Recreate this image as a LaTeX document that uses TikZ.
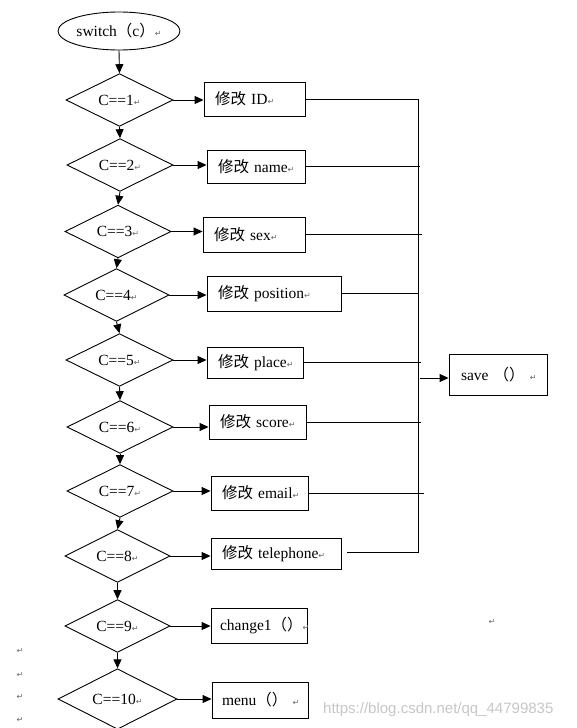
\documentclass[tikz,border=0pt]{standalone}
\usepackage{fontspec}
\setmainfont{Liberation Serif}
\newfontfamily\cjk{Noto Sans CJK SC}
\newfontfamily\dvs{DejaVu Sans}
\newfontfamily\wmfont{Liberation Sans}
\usetikzlibrary{shapes.geometric,arrows.meta}
\newcommand\rmk{{\dvs\fontsize{8}{8}\selectfont\textcolor{black!60}{↵}}}
\begin{document}
\begin{tikzpicture}[x=1pt,y=-1pt,
  every node/.style={font=\fontsize{15.5}{18}\selectfont},
  dia/.style={draw, diamond, inner sep=0pt, line width=0.9pt},
  box/.style={draw, rectangle, line width=0.9pt, inner xsep=11pt, inner ysep=0pt, align=left},
  ln/.style={line width=0.9pt},
  arr/.style={line width=0.9pt, -{Triangle[length=9pt,width=8pt]}},
  pmk/.style={inner sep=0pt}]
\useasboundingbox (0,0) rectangle (576,728);
\fill[white] (0,0) rectangle (576,728);

% start
\node[draw, ellipse, minimum width=122pt, minimum height=38pt, inner sep=0pt, line width=0.9pt] (sw) at (119,31) {switch{\cjk （}c{\cjk ）}\rmk};

% diamonds
\node[dia, minimum width=107pt, minimum height=46pt] (d1) at (119.5,100) {C==1\rmk};
\node[dia, minimum width=106pt, minimum height=46pt] (d2) at (120,165) {C==2\rmk};
\node[dia, minimum width=106pt, minimum height=47pt] (d3) at (118,231.5) {C==3\rmk};
\node[dia, minimum width=105pt, minimum height=46pt] (d4) at (116.5,295) {C==4\rmk};
\node[dia, minimum width=107pt, minimum height=46pt] (d5) at (119.5,360) {C==5\rmk};
\node[dia, minimum width=106pt, minimum height=48pt] (d6) at (120,427) {C==6\rmk};
\node[dia, minimum width=106pt, minimum height=48pt] (d7) at (120,491) {C==7\rmk};
\node[dia, minimum width=105pt, minimum height=48pt] (d8) at (117.5,556) {C==8\rmk};
\node[dia, minimum width=105pt, minimum height=48pt] (d9) at (117.5,626) {C==9\rmk};
\node[dia, minimum width=119pt, minimum height=48pt] (d10) at (117.5,699) {C==10\rmk};

% boxes
\node[box, minimum height=34pt, text width=79pt] (b1) at (254.5,99) {\mbox{{\cjk 修改} ID\rmk}};
\node[box, minimum height=33pt, text width=76pt] (b2) at (256,166.5) {\mbox{{\cjk 修改} name\rmk}};
\node[box, minimum height=35pt, text width=80pt] (b3) at (254,234.5) {\mbox{{\cjk 修改} sex\rmk}};
\node[box, minimum height=35pt, text width=112pt] (b4) at (274,293.5) {\mbox{{\cjk 修改} position\rmk}};
\node[box, minimum height=31pt, text width=74pt] (b5) at (255,362.5) {\mbox{{\cjk 修改} place\rmk}};
\node[box, minimum height=34pt, text width=75pt] (b6) at (257.5,422) {\mbox{{\cjk 修改} score\rmk}};
\node[box, minimum height=34pt, text width=75pt] (b7) at (259.5,493) {\mbox{{\cjk 修改} email\rmk}};
\node[box, minimum height=31pt, text width=108pt] (b8) at (276,553.5) {\mbox{{\cjk 修改} telephone\rmk}};
\node[box, minimum height=35pt, text width=78pt, inner xsep=9pt] (b9) at (259,625.5) {\mbox{change1{\cjk （）}\rmk}};
\node[box, minimum height=36pt, text width=80pt, inner xsep=8pt] (b10) at (260,700) {\mbox{\hspace{2pt}menu{\cjk （）} \rmk}};
\node[box, minimum height=41pt, text width=78pt, inner xsep=10pt] (sv) at (498,374.5) {\mbox{\hspace{2pt}save {\cjk （）} \rmk}};

% vertical flow
\draw[arr] (sw.south) -- (d1.north);
\draw[arr] (d1.south) -- (d2.north);
\draw[arr] (d2.south) -- (d3.north);
\draw[arr] (d3.south) -- (d4.north);
\draw[arr] (d4.south) -- (d5.north);
\draw[arr] (d5.south) -- (d6.north);
\draw[arr] (d6.south) -- (d7.north);
\draw[arr] (d7.south) -- (d8.north);
\draw[arr] (d8.south) -- (d9.north);
\draw[arr] (d9.south) -- (d10.north);

% horizontal arrows
\foreach \i in {1,...,10} {
  \draw[arr] (d\i.east) -- (d\i.east -| b\i.west);
}

% collector bus
\coordinate (busT) at (418,99);
\coordinate (busB) at (418,552);
\draw[ln] (b1.east) -- (busT) -- (busB) -- ([xshift=6pt]b8.east |- busB);
\draw[ln] (b2.east) -- ([xshift=2pt]b2.east -| busT);
\draw[ln] (b3.east) -- ([xshift=4pt]b3.east -| busT);
\draw[ln] (b4.east) -- (b4.east -| busT);
\draw[ln] (b5.east) -- ([xshift=3pt]b5.east -| busT);
\draw[ln] (b6.east) -- ([xshift=3pt]b6.east -| busT);
\draw[ln] (b7.east) -- ([xshift=6pt]b7.east -| busT);
\coordinate (svs) at (420,378);
\draw[arr] (svs) -- (svs -| sv.west);

% paragraph marks
\node[pmk] (m1) at (20,651) {\rmk};
\node[pmk] (m2) at (20,675) {\rmk};
\node[pmk] (m3) at (20,697) {\rmk};
\node[pmk] (m4) at (20,720) {\rmk};
\node[pmk] (m5) at (492,622) {\rmk};

% watermark
\node[anchor=base west, inner sep=0pt, font=\wmfont\fontsize{15}{18}\selectfont, text=black!22] (wm) at (323,713) {https://blog.csdn.net/qq\_44799835};
\end{tikzpicture}
\end{document}
